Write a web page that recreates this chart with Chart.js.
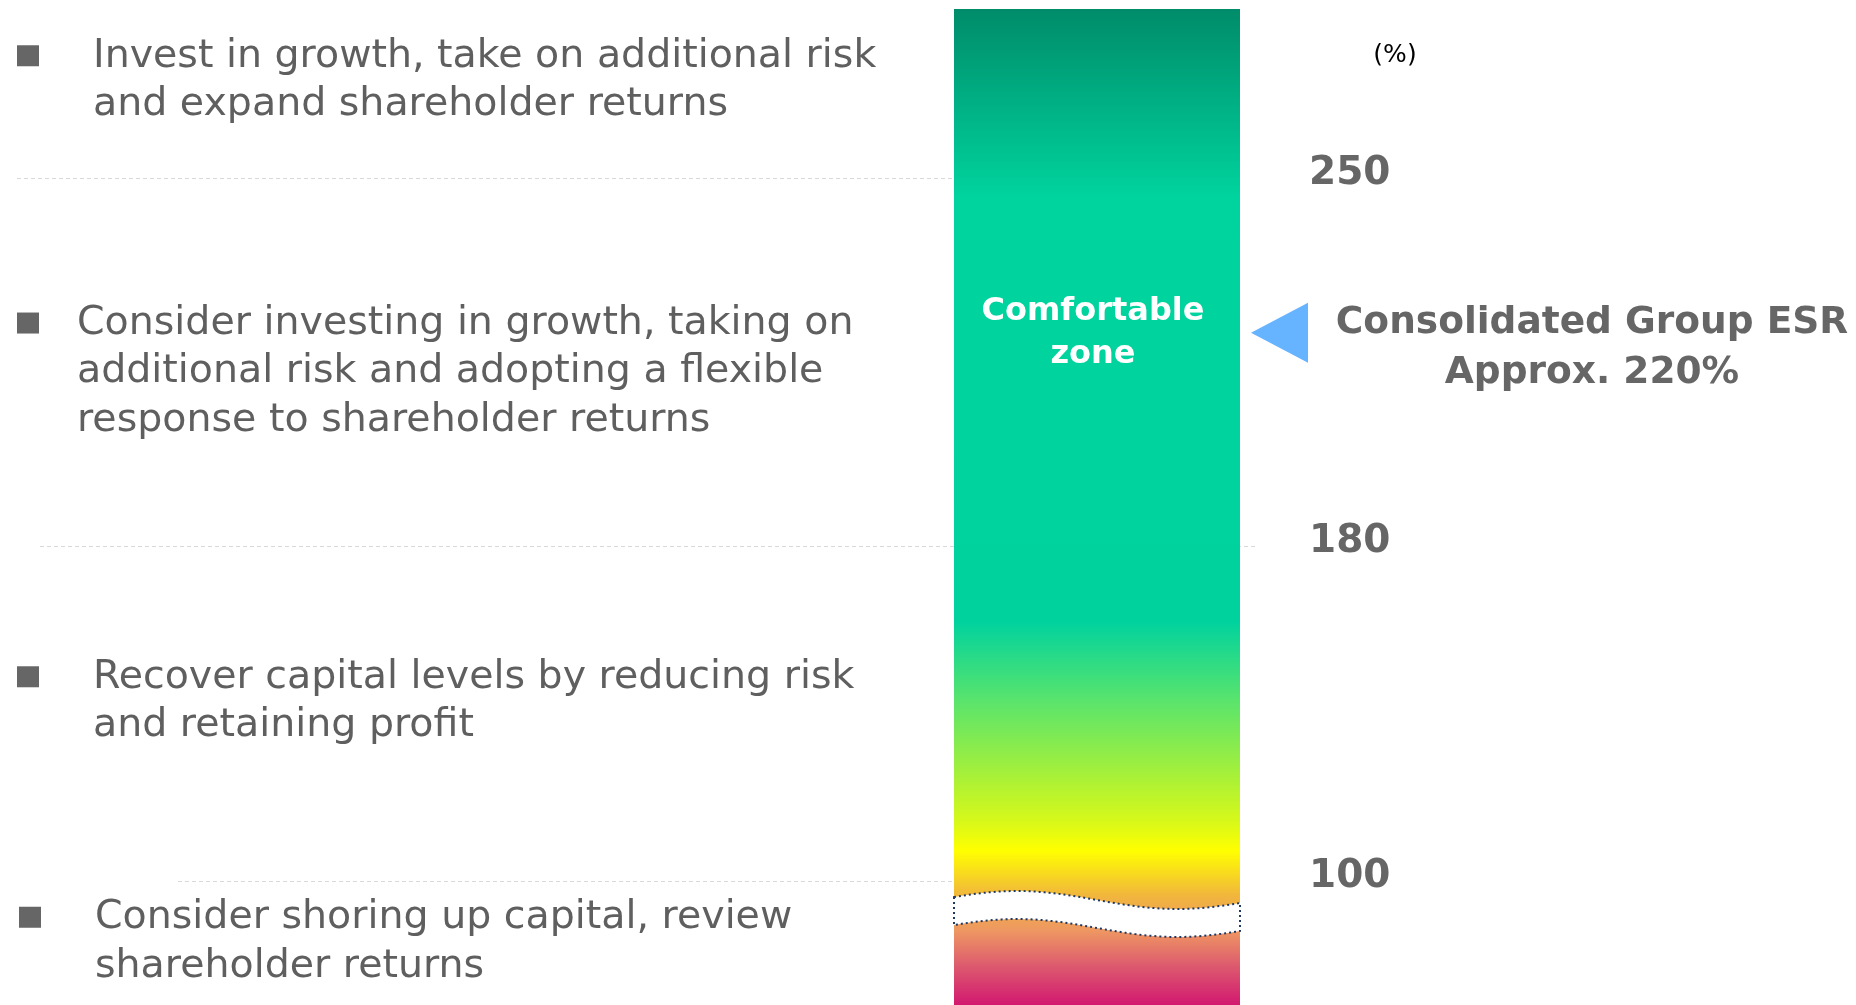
<!DOCTYPE html>
<html>
<head>
<meta charset="utf-8">
<script src="https://cdn.jsdelivr.net/npm/chart.js@4.4.1/dist/chart.umd.min.js"></script>
<style>
  html, body { margin: 0; padding: 0; background: #fff; }
  #wrap { width: 1856px; height: 1005px; position: relative; }
</style>
</head>
<body>
<div id="wrap"><canvas id="chart"></canvas></div>
<script>
const categories = ['ESR'];
const thresholds = [100, 180, 250];
const axisRange = [70, 285];
const esrValues = [220];
const esrLabel = ['Consolidated Group ESR', 'Approx. 220%'];
const zoneLabel = ['Comfortable', 'zone'];
const unitLabel = '(%)';
// bottom zone first
const zoneTexts = [
  ['Consider shoring up capital, review', 'shareholder returns'],
  ['Recover capital levels by reducing risk', 'and retaining profit'],
  ['Consider investing in growth, taking on', 'additional risk and adopting a flexible', 'response to shareholder returns'],
  ['Invest in growth, take on additional risk', 'and expand shareholder returns']
];

// the original axis is not to scale, so each knot gets its own place (0 = bottom, 1 = top)
const knotValues = [axisRange[0], ...thresholds, axisRange[1]];
const knotDecimals = [0, 0.1245, 0.4608, 0.8303, 1];

function toDecimal(v) {
  for (let i = 1; i < knotValues.length; i++) {
    if (v <= knotValues[i] || i === knotValues.length - 1) {
      const t = (v - knotValues[i - 1]) / (knotValues[i] - knotValues[i - 1]);
      return knotDecimals[i - 1] + t * (knotDecimals[i] - knotDecimals[i - 1]);
    }
  }
}
function fromDecimal(d) {
  for (let i = 1; i < knotDecimals.length; i++) {
    if (d <= knotDecimals[i] || i === knotDecimals.length - 1) {
      const t = (d - knotDecimals[i - 1]) / (knotDecimals[i] - knotDecimals[i - 1]);
      return knotValues[i - 1] + t * (knotValues[i] - knotValues[i - 1]);
    }
  }
}

class BrokenScale extends Chart.LinearScale {
  static id = 'broken';
  static defaults = Chart.LinearScale.defaults;
  getPixelForValue(value) {
    return value === null ? NaN : this.getPixelForDecimal(toDecimal(value));
  }
  getValueForPixel(pixel) {
    return fromDecimal(this.getDecimalForPixel(pixel));
  }
}
Chart.register(BrokenScale);

const FONT = '"DejaVu Sans", Verdana, sans-serif';
const GREY = '#5f5f5f';

function barGradient(ctx) {
  const area = ctx.chart.chartArea;
  if (!area) return '#00d29e';
  const g = ctx.chart.ctx.createLinearGradient(0, area.top, 0, area.bottom);
  g.addColorStop(0, '#008c6a');
  g.addColorStop(0.19, '#00d49e');
  g.addColorStop(0.615, '#00d29e');
  g.addColorStop(0.695, '#5ae46c');
  g.addColorStop(0.815, '#d6f81a');
  g.addColorStop(0.845, '#ffff00');
  g.addColorStop(0.89, '#f1b63c');
  g.addColorStop(0.925, '#ee9862');
  g.addColorStop(0.962, '#dc586e');
  g.addColorStop(1, '#d21870');
  return g;
}

// wavy edge of the axis break
function wavePoints(left, right, mid, amp) {
  const pts = [];
  for (let i = 0; i <= 60; i++) {
    const t = i / 60;
    pts.push([left + t * (right - left), mid - amp * Math.cos(2 * Math.PI * (t - 0.22) / 1.12)]);
  }
  return pts;
}

const overlay = {
  id: 'overlay',
  beforeDatasetsDraw(chart) {
    const {ctx} = chart;
    const y = chart.scales.y;
    // dashed guides, x extents for 100 / 180 / 250
    const spans = [[178, 954], [40, 1258], [17, 954]];
    ctx.save();
    ctx.strokeStyle = '#d9d9d9';
    ctx.lineWidth = 1;
    ctx.setLineDash([4, 3]);
    thresholds.forEach((v, i) => {
      const py = Math.round(y.getPixelForValue(v)) + 0.5;
      ctx.beginPath();
      ctx.moveTo(spans[i][0], py);
      ctx.lineTo(spans[i][1], py);
      ctx.stroke();
    });
    ctx.restore();
  },
  afterDatasetsDraw(chart) {
    const {ctx, chartArea: a} = chart;
    const y = chart.scales.y;
    const bar = chart.getDatasetMeta(0).data[0];
    const left = bar.x - bar.width / 2, right = bar.x + bar.width / 2;

    // axis break
    const mid = y.getPixelForValue(thresholds[0]) + 19;
    const upper = wavePoints(left, right, mid, 9);
    const lower = wavePoints(left, right, mid + 28, 9);
    ctx.save();
    ctx.beginPath();
    upper.forEach((p, i) => i ? ctx.lineTo(p[0], p[1]) : ctx.moveTo(p[0], p[1]));
    for (let i = lower.length - 1; i >= 0; i--) ctx.lineTo(lower[i][0], lower[i][1]);
    ctx.closePath();
    ctx.fillStyle = '#ffffff';
    ctx.fill();
    ctx.strokeStyle = '#1f3864';
    ctx.lineWidth = 2;
    ctx.setLineDash([2, 3]);
    ctx.stroke();
    ctx.restore();

    // comfortable zone label
    const zoneMid = (y.getPixelForValue(thresholds[1]) + y.getPixelForValue(thresholds[2])) / 2;
    ctx.save();
    ctx.fillStyle = '#ffffff';
    ctx.font = 'bold 32px ' + FONT;
    ctx.textAlign = 'center';
    ctx.textBaseline = 'middle';
    ctx.fillText(zoneLabel[0], bar.x - 4, zoneMid - 50);
    ctx.fillText(zoneLabel[1], bar.x - 4, zoneMid - 7);
    ctx.restore();

    // ESR marker
    const ey = y.getPixelForValue(esrValues[0]);
    ctx.save();
    ctx.fillStyle = '#66b3ff';
    ctx.beginPath();
    ctx.moveTo(right + 11, ey - 3);
    ctx.lineTo(right + 68, ey - 33);
    ctx.lineTo(right + 68, ey + 27);
    ctx.closePath();
    ctx.fill();
    ctx.fillStyle = '#666666';
    ctx.font = 'bold 37.5px ' + FONT;
    ctx.textAlign = 'center';
    ctx.textBaseline = 'middle';
    ctx.fillText(esrLabel[0], 1592, ey - 12);
    ctx.fillText(esrLabel[1], 1592, ey + 38);

    // unit
    ctx.fillStyle = '#000000';
    ctx.font = '25px ' + FONT;
    ctx.fillText(unitLabel, 1395, a.top + 46);
    ctx.restore();

    // zone descriptions on the left
    const textX = [95, 93, 77, 93];
    const bulletX = [19, 17, 17, 17];
    const shift = [-1, -12, 10, -13];
    const lineH = 48.5;
    ctx.save();
    ctx.font = '39.5px ' + FONT;
    ctx.textAlign = 'left';
    ctx.textBaseline = 'middle';
    zoneTexts.forEach((lines, i) => {
      const top = y.getPixelForValue(knotValues[i + 1]);
      const bottom = y.getPixelForValue(knotValues[i]);
      const c = (top + bottom) / 2 + shift[i];
      const first = c - (lines.length - 1) * lineH / 2;
      ctx.fillStyle = '#666666';
      ctx.fillRect(bulletX[i], first - 11, 22, 21);
      ctx.fillStyle = GREY;
      lines.forEach((s, k) => ctx.fillText(s, textX[i], first + k * lineH));
    });
    ctx.restore();
  }
};

new Chart(document.getElementById('chart'), {
  type: 'bar',
  data: {
    labels: categories,
    datasets: [{
      label: 'ESR range',
      data: [axisRange],
      backgroundColor: barGradient,
      borderWidth: 0,
      barPercentage: 1,
      categoryPercentage: 1
    }]
  },
  options: {
    responsive: true,
    maintainAspectRatio: false,
    animation: false,
    layout: { padding: { left: 954, top: 9, right: 0, bottom: 0 } },
    plugins: { legend: { display: false }, tooltip: { enabled: false } },
    scales: {
      x: { display: false },
      y: {
        type: 'broken',
        position: 'right',
        min: axisRange[0],
        max: axisRange[1],
        grid: { display: false },
        border: { display: false },
        afterBuildTicks: (s) => { s.ticks = thresholds.map(v => ({ value: v })); },
        afterFit: (s) => { s.width = 616; s.paddingTop = 0; s.paddingBottom = 0; },
        ticks: {
          padding: 61,
          labelOffset: -4,
          color: '#666666',
          font: { family: FONT, size: 39, weight: 'bold' },
          callback: (v) => String(v)
        }
      }
    }
  },
  plugins: [overlay]
});
</script>
</body>
</html>
